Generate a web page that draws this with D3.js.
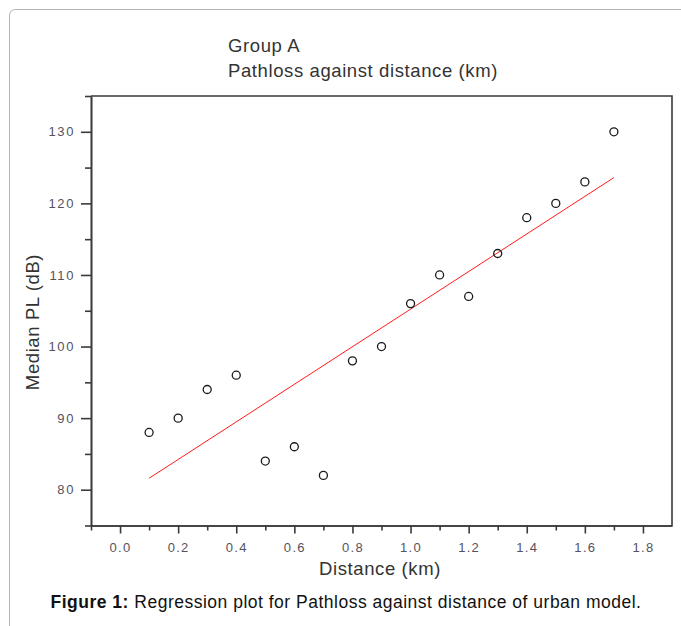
<!DOCTYPE html>
<html lang="en">
<head>
    <meta charset="UTF-8">
    <title>Pathloss against distance</title>
    <script src="https://d3js.org/d3.v7.min.js"></script>
    <style>
        body { margin: 0; background: #fff; }
        svg { display: block; font-family: "Liberation Sans", Arial, sans-serif; }
    </style>
</head>
<body>
    <div id="chart"></div>
    <script>
        const distance = [0.1, 0.2, 0.3, 0.4, 0.5, 0.6, 0.7, 0.8, 0.9, 1.0, 1.1, 1.2, 1.3, 1.4, 1.5, 1.6, 1.7];
        const medianPL = [88, 90, 94, 96, 84, 86, 82, 98, 100, 106, 110, 107, 113, 118, 120, 123, 130];

        // regression line end points as drawn
        const fitX = [0.1, 1.7];
        const fitY = [81.6, 123.6];

        const xTicks = [0.0, 0.2, 0.4, 0.6, 0.8, 1.0, 1.2, 1.4, 1.6, 1.8];
        const yTicks = [80, 90, 100, 110, 120, 130];

        const width = 681, height = 626;
        const plotLeft = 91, plotRight = 672, plotTop = 96, plotBottom = 525.5;

        const svg = d3.select("#chart").append("svg")
            .attr("width", width)
            .attr("height", height);

        // page frame (rounded corner, only left + top visible)
        svg.append("path")
            .attr("d", "M9.5,626 L9.5,16 Q9.5,9.5 16,9.5 L681,9.5")
            .attr("fill", "none")
            .attr("stroke", "#b4b4b4")
            .attr("stroke-width", 1);

        const x = d3.scaleLinear().domain([-0.1, 1.9]).range([plotLeft, plotRight]);
        const y = d3.scaleLinear().domain([75, 135]).range([plotBottom, plotTop]);

        // minor ticks
        const xMinor = d3.range(-1, 19, 2).map(d => d / 10);
        const yMinor = d3.range(75, 140, 10);

        const xAxis = svg.append("g")
            .attr("transform", `translate(0,${plotBottom})`)
            .call(d3.axisBottom(x).tickValues(xTicks).tickFormat(d3.format(".1f")).tickSize(8).tickSizeOuter(0));
        svg.append("g")
            .attr("transform", `translate(0,${plotBottom})`)
            .call(d3.axisBottom(x).tickValues(xMinor).tickFormat("").tickSize(5).tickSizeOuter(0));

        const yAxis = svg.append("g")
            .attr("transform", `translate(${plotLeft},0)`)
            .call(d3.axisLeft(y).tickValues(yTicks).tickSize(10).tickSizeOuter(0));
        svg.append("g")
            .attr("transform", `translate(${plotLeft},0)`)
            .call(d3.axisLeft(y).tickValues(yMinor).tickFormat("").tickSize(6).tickSizeOuter(0));

        svg.selectAll(".domain, .tick line")
            .attr("stroke", "#3a3a3a")
            .attr("stroke-width", 1.6);

        xAxis.selectAll(".tick text")
            .attr("y", 26.5)
            .attr("dy", 0)
            .attr("fill", "#55525e")
            .style("font-size", "13px")
            .style("letter-spacing", "1.3px");
        yAxis.selectAll(".tick text")
            .attr("x", -16)
            .attr("fill", "#55525e")
            .style("font-size", "13px")
            .style("letter-spacing", "1.6px");

        // top and right frame
        svg.append("path")
            .attr("d", `M${plotLeft},${plotTop} L${plotRight},${plotTop} L${plotRight},${plotBottom}`)
            .attr("fill", "none")
            .attr("stroke", "#3a3a3a")
            .attr("stroke-width", 1.6);

        // regression line
        svg.append("path")
            .datum(fitX.map((d, i) => [d, fitY[i]]))
            .attr("d", d3.line().x(d => x(d[0])).y(d => y(d[1])))
            .attr("fill", "none")
            .attr("stroke", "#ff1a1a")
            .attr("stroke-width", 1);

        // points
        svg.append("g")
            .selectAll("circle")
            .data(distance)
            .join("circle")
            .attr("cx", d => x(d))
            .attr("cy", (d, i) => y(medianPL[i]))
            .attr("r", 4)
            .attr("fill", "none")
            .attr("stroke", "#1a1a1a")
            .attr("stroke-width", 1.3);

        // titles
        const titleStyle = t => t.attr("fill", "#333")
            .style("font-size", "18.5px")
            .style("letter-spacing", "0.6px");
        svg.append("text")
            .attr("x", 228).attr("y", 52)
            .call(titleStyle)
            .text("Group A");
        svg.append("text")
            .attr("x", 228).attr("y", 77)
            .call(titleStyle)
            .text("Pathloss against distance (km)");

        svg.append("text")
            .attr("transform", "translate(39,322) rotate(-90)")
            .attr("text-anchor", "middle")
            .call(titleStyle)
            .text("Median PL (dB)");
        svg.append("text")
            .attr("x", 380).attr("y", 575)
            .attr("text-anchor", "middle")
            .call(titleStyle)
            .text("Distance (km)");

        const cap = svg.append("text")
            .attr("x", 346).attr("y", 608)
            .attr("text-anchor", "middle")
            .attr("fill", "#111")
            .style("font-size", "17.5px")
            .style("letter-spacing", "0.5px");
        cap.append("tspan").style("font-weight", "bold").text("Figure 1:");
        cap.append("tspan").text(" Regression plot for Pathloss against distance of urban model.");
    </script>
</body>
</html>
